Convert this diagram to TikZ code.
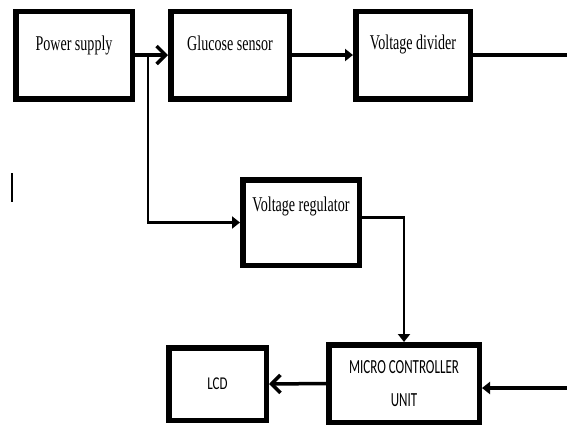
\documentclass[tikz,border=0pt]{standalone}
\usepackage{graphicx}
\usepackage{fontspec}
\setmainfont{Liberation Serif}
\newfontfamily\calfont{Carlito}
\usetikzlibrary{arrows.meta}
\tikzset{
  block box/.style={draw=black, line width=5.5pt, fill=white},
  block title/.style={anchor=base, font=\fontsize{21}{25}\selectfont},
  block caption/.style={align=center, font=\calfont\fontsize{20}{33}\selectfont},
  signal line/.style={line width=3.5pt},
  thin signal line/.style={line width=2.5pt},
  barb tip/.style={-{Straight Barb[length=9pt, width=18pt]}},
  head tip/.style={-{Triangle[length=8pt, width=12pt]}},
}
\newcommand{\squeezeText}[2][0.67]{\scalebox{#1}[1]{#2}}

\begin{document}
\begin{tikzpicture}[x=1pt, y=-1pt]
  \useasboundingbox (0,0) rectangle (567,429);
  % blocks
  \node[block box, minimum width=116.5pt, minimum height=87.5pt,
        label={[block title, yshift=-41.5pt]north:\squeezeText{Power supply}}] (ps) at (74,55) {};
  \node[block box, minimum width=118.5pt, minimum height=87.5pt,
        label={[block title, yshift=-41.5pt]north:\squeezeText{Glucose sensor}}] (gs) at (230,55) {};
  \node[block box, minimum width=114.5pt, minimum height=87.5pt,
        label={[block title, yshift=-40.5pt]north:\squeezeText{Voltage divider}}] (vd) at (413,55) {};
  \node[block box, minimum width=116.5pt, minimum height=85.5pt,
        label={[block title, yshift=-34.5pt]north:\squeezeText{Voltage regulator}}] (vr) at (301,222.5) {};
  \node[block box, block caption, minimum width=150.5pt, minimum height=77.5pt] (mcu) at (404,383.5)
        {\squeezeText[0.65]{MICRO CONTROLLER}\\\squeezeText[0.65]{UNIT}};
  \node[block box, minimum width=97.5pt, minimum height=72.5pt,
        font=\calfont\fontsize{18}{22}\selectfont] (lcd) at (217.5,384) {\squeezeText[0.72]{LCD}};
  % stray mark
  \draw[line width=1.2pt] (12,173) -- (12,202);
  % connectors
  \coordinate (br) at (148,55);
  \coordinate (divout) at (567,55);
  \coordinate (mcuin) at (567,388);
  \draw[signal line, barb tip] (ps.east) -- (gs.west);
  \draw[signal line, head tip] (gs.east) -- (vd.west);
  \draw[signal line] (vd.east) -- (divout);
  \draw[thin signal line, head tip] (br) |- (vr.west);
  \draw[thin signal line, head tip] ([yshift=5pt]vr.east) -| (mcu.north);
  \draw[signal line, barb tip] (mcu.west) -- (lcd.east);
  \draw[signal line, head tip] (mcuin) -- (mcuin -| mcu.east);
\end{tikzpicture}
\end{document}
